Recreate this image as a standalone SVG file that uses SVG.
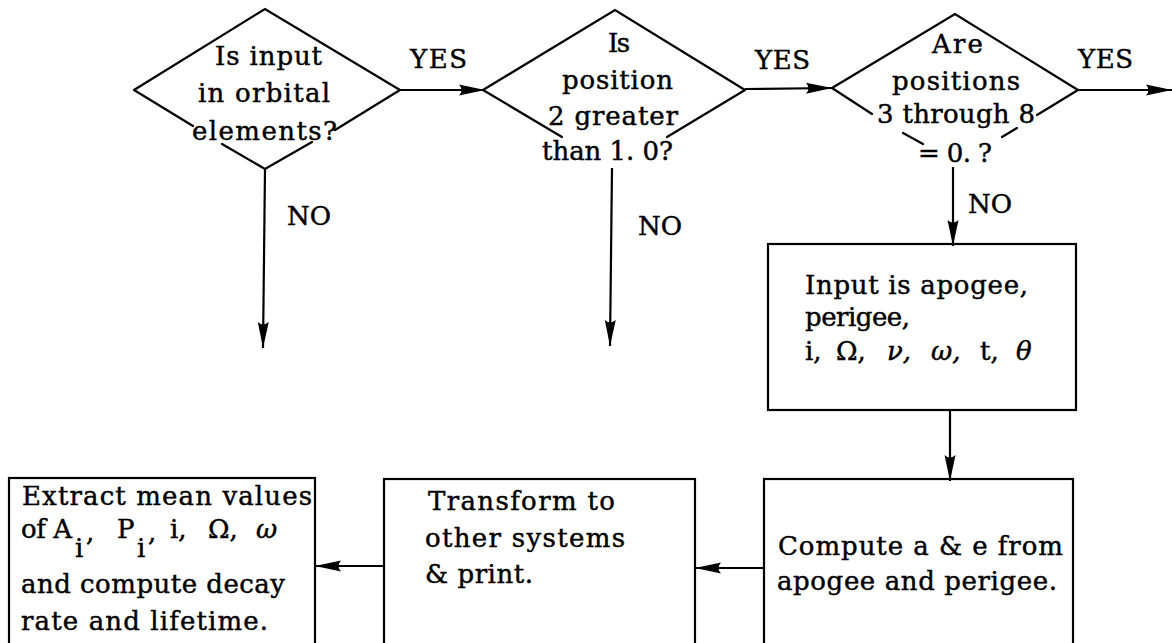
<svg xmlns="http://www.w3.org/2000/svg" width="1172" height="643" viewBox="0 0 1172 643">
  <style>
    .edge { fill: none; stroke: #000; stroke-width: 2.2; stroke-linecap: round; }
    .box { fill: none; stroke: #000; stroke-width: 2.2; }
    .wire { fill: none; stroke: #000; stroke-width: 2.2; }
    text { font-family: "DejaVu Serif", "Liberation Serif", serif; font-size: 26px; fill: #000; stroke: #000; stroke-width: 0.45; }
    .it { font-style: italic; }
  </style>
  <defs>
    <marker id="head" markerUnits="userSpaceOnUse" markerWidth="30" markerHeight="14" refX="26" refY="6" orient="auto">
      <path d="M0,0.5 Q5,6 0,11.5 L26,6 Z" fill="#000"/>
    </marker>
  </defs>

  <rect width="1172" height="643" fill="#fff"/>

  <!-- Decision: orbital elements -->
  <g id="decision-orbital">
    <path class="edge" d="M134,90 L265,9 L400,90 M134,90 L193,126 M222,144 L265,169 L312,142 M335,130 L400,90"/>
    <text x="215" y="65" textLength="107" lengthAdjust="spacing">Is input</text>
    <text x="198" y="102" textLength="132" lengthAdjust="spacing">in orbital</text>
    <text x="192" y="140" textLength="145" lengthAdjust="spacing">elements?</text>
  </g>

  <!-- Decision: position 2 -->
  <g id="decision-position2">
    <path class="edge" d="M483,90 L615,10 L745,90 M483,90 L562,137 M667,137 L745,90"/>
    <text x="608" y="52" textLength="22" lengthAdjust="spacing">Is</text>
    <text x="562" y="89" textLength="111" lengthAdjust="spacing">position</text>
    <text x="548" y="125" textLength="130" lengthAdjust="spacing">2 greater</text>
    <text x="542" y="160" textLength="131" lengthAdjust="spacing">than 1. 0?</text>
  </g>

  <!-- Decision: positions 3-8 -->
  <g id="decision-positions3to8">
    <path class="edge" d="M832,88 L955,14 L1078,90 M832,88 L872,114 M903,133 L923,144 M1002,137 L1017,128 M1037,115 L1078,90"/>
    <text x="932" y="53" textLength="51" lengthAdjust="spacing">Are</text>
    <text x="892" y="90" textLength="128" lengthAdjust="spacing">positions</text>
    <text x="877" y="123" textLength="158" lengthAdjust="spacing">3 through 8</text>
    <text x="918" y="162" textLength="74" lengthAdjust="spacing">= 0. ?</text>
  </g>

  <!-- Process: apogee/perigee input -->
  <g id="input-apogee">
    <rect class="box" x="768" y="244" width="308" height="166"/>
    <text x="805" y="294" textLength="223" lengthAdjust="spacing">Input is apogee,</text>
    <text x="805" y="326" textLength="105" lengthAdjust="spacing">perigee,</text>
    <text y="360"><tspan x="805">i,</tspan><tspan x="836">Ω,</tspan><tspan x="887" class="it">ν,</tspan><tspan x="931" class="it">ω,</tspan><tspan x="980">t,</tspan><tspan x="1016" class="it">θ</tspan></text>
  </g>

  <!-- Process: compute a and e -->
  <g id="compute-ae">
    <rect class="box" x="764" y="479" width="309" height="200"/>
    <text x="778" y="555" textLength="285" lengthAdjust="spacing">Compute a &amp; e from</text>
    <text x="777" y="590" textLength="280" lengthAdjust="spacing">apogee and perigee.</text>
  </g>

  <!-- Process: transform and print -->
  <g id="transform-print">
    <rect class="box" x="384" y="479" width="311" height="200"/>
    <text x="428" y="510" textLength="187" lengthAdjust="spacing">Transform to</text>
    <text x="425" y="547" textLength="200" lengthAdjust="spacing">other systems</text>
    <text x="425" y="583" textLength="108" lengthAdjust="spacing">&amp; print.</text>
  </g>

  <!-- Process: mean values, decay and lifetime -->
  <g id="extract-mean">
    <rect class="box" x="9" y="478" width="306" height="200"/>
    <text x="22" y="505" textLength="290" lengthAdjust="spacing">Extract mean values</text>
    <text x="21" y="538" textLength="51" lengthAdjust="spacing">of A</text>
    <text x="75" y="557">i</text>
    <text x="86" y="541">,</text>
    <text x="117" y="538">P</text>
    <text x="137" y="557">i</text>
    <text x="148" y="541">,</text>
    <text x="170" y="538">i,</text>
    <text x="208" y="538">Ω,</text>
    <text x="256" y="538" class="it">ω</text>
    <text x="21" y="593" textLength="264" lengthAdjust="spacing">and compute decay</text>
    <text x="21" y="630" textLength="247" lengthAdjust="spacing">rate and lifetime.</text>
  </g>

  <!-- Connectors and branch labels -->
  <g id="connectors">
    <path class="wire" d="M400,90 L485,90" marker-end="url(#head)"/>
    <path class="wire" d="M745,89 L832,88" marker-end="url(#head)"/>
    <path class="wire" d="M1078,90 L1172,90" marker-end="url(#head)"/>
    <path class="wire" d="M265,169 L263,348" marker-end="url(#head)"/>
    <path class="wire" d="M612,168 L610,346" marker-end="url(#head)"/>
    <path class="wire" d="M953,167 L953,246" marker-end="url(#head)"/>
    <path class="wire" d="M950,410 L950,481" marker-end="url(#head)"/>
    <path class="wire" d="M764,568 L695,568" marker-end="url(#head)"/>
    <path class="wire" d="M384,566 L315,566" marker-end="url(#head)"/>
    <text x="410" y="68" textLength="57" lengthAdjust="spacing">YES</text>
    <text x="755" y="69" textLength="55" lengthAdjust="spacing">YES</text>
    <text x="1078" y="68" textLength="55" lengthAdjust="spacing">YES</text>
    <text x="287" y="225">NO</text>
    <text x="638" y="235">NO</text>
    <text x="968" y="213">NO</text>
  </g>
</svg>
